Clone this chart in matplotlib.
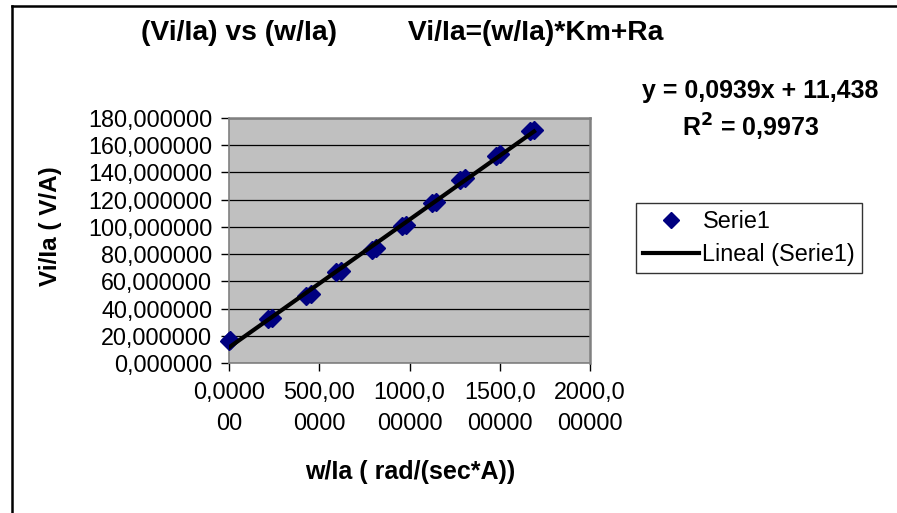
import matplotlib
matplotlib.use("Agg")
import matplotlib.pyplot as plt
from matplotlib.lines import Line2D
from matplotlib.ticker import FixedLocator, FuncFormatter

plt.rcParams['font.family'] = ['Liberation Sans', 'DejaVu Sans']

# ---- data ----
w_ia = [0, 3, 215, 240, 428, 452, 594, 618, 790, 815,
        958, 982, 1124, 1148, 1281, 1305, 1477, 1501, 1665, 1690]
vi_ia = [16.2, 16.6, 32.2, 33.4, 49.4, 50.6, 66.5, 67.7, 83.2, 84.4,
         100.3, 101.5, 117.4, 118.6, 134.6, 135.8, 152.2, 153.4, 170.1, 171.3]
slope = 0.0939
intercept = 11.438
r2 = 0.9973
y_ticks = [0, 20, 40, 60, 80, 100, 120, 140, 160, 180]
x_ticks = [0, 500, 1000, 1500, 2000]
x_tick_labels = ["0,0000\n00", "500,00\n0000", "1000,0\n00000", "1500,0\n00000", "2000,0\n00000"]
title_text = "(Vi/Ia) vs (w/Ia)         Vi/Ia=(w/Ia)*Km+Ra"
x_label = "w/Ia ( rad/(sec*A))"
y_label = "Vi/Ia ( V/A)"

W, H = 897, 513
fig = plt.figure(figsize=(W / 100, H / 100), dpi=100)
fig.patch.set_facecolor('white')

# chart border (top and left visible)
fig.add_artist(Line2D([12 / W, 12 / W], [0, 1 - 6 / H], transform=fig.transFigure, color='black', lw=1.8))
fig.add_artist(Line2D([12 / W, 1], [1 - 6 / H, 1 - 6 / H], transform=fig.transFigure, color='black', lw=1.8))

ax = fig.add_axes([229 / W, 1 - 363 / H, 361 / W, 245 / H])
ax.set_facecolor('#C0C0C0')
ax.set_xlim(0, 2000)
ax.set_ylim(0, 180)

ax.yaxis.set_major_locator(FixedLocator(y_ticks))
ax.yaxis.set_major_formatter(FuncFormatter(lambda v, p: f"{v:.6f}".replace('.', ',')))
ax.set_xticks(x_ticks)
ax.set_xticklabels(x_tick_labels, linespacing=1.45)

ax.grid(axis='y', color='black', lw=0.9)
ax.set_axisbelow(True)
for s in ['top', 'right']:
    ax.spines[s].set_color('#808080')
    ax.spines[s].set_linewidth(1.8)
for s in ['left', 'bottom']:
    ax.spines[s].set_color('#808080')
    ax.spines[s].set_linewidth(1.2)

ax.tick_params(axis='both', direction='out', length=6, width=1, color='black', labelsize=16.8)
ax.tick_params(axis='y', pad=6)
ax.tick_params(axis='x', pad=7)

ax.plot(w_ia, vi_ia, linestyle='none', marker='D', markersize=9, color='#000080',
        markeredgecolor='#000080', label='Serie1', zorder=3, clip_on=False)
xl = [min(w_ia), max(w_ia)]
ax.plot(xl, [slope * v + intercept for v in xl], color='black', lw=3, label='Lineal (Serie1)', zorder=4)

fig.text(402 / W, 1 - 33 / H, title_text, ha='center', va='center', fontsize=20.3, fontweight='bold')
fig.text(410 / W, 1 - 472 / H, x_label, ha='center', va='center', fontsize=18, fontweight='bold')
fig.text(50 / W, 1 - 226 / H, y_label, ha='center', va='center', fontsize=17.5, fontweight='bold', rotation=90)
fig.text(760 / W, 1 - 91 / H, f"y = {slope:.4f}x + {intercept:.3f}".replace('.', ','),
         ha='center', va='center', fontsize=18, fontweight='bold')
fig.text(751 / W, 1 - 127 / H, f"R$^{{\\mathbf{{2}}}}$ = {r2:.4f}".replace('.', ','),
         ha='center', va='center', fontsize=18, fontweight='bold')

leg = ax.legend(loc='upper left', bbox_to_anchor=(636 / W, 1 - 203 / H), bbox_transform=fig.transFigure,
                frameon=True, fancybox=False, fontsize=16.8, handlelength=2.4, handletextpad=0.15,
                borderpad=0.3, labelspacing=0.42, borderaxespad=0, markerscale=0.9)
leg.get_frame().set_edgecolor('black')
leg.get_frame().set_linewidth(1)

fig.savefig('out.png', dpi=100)
